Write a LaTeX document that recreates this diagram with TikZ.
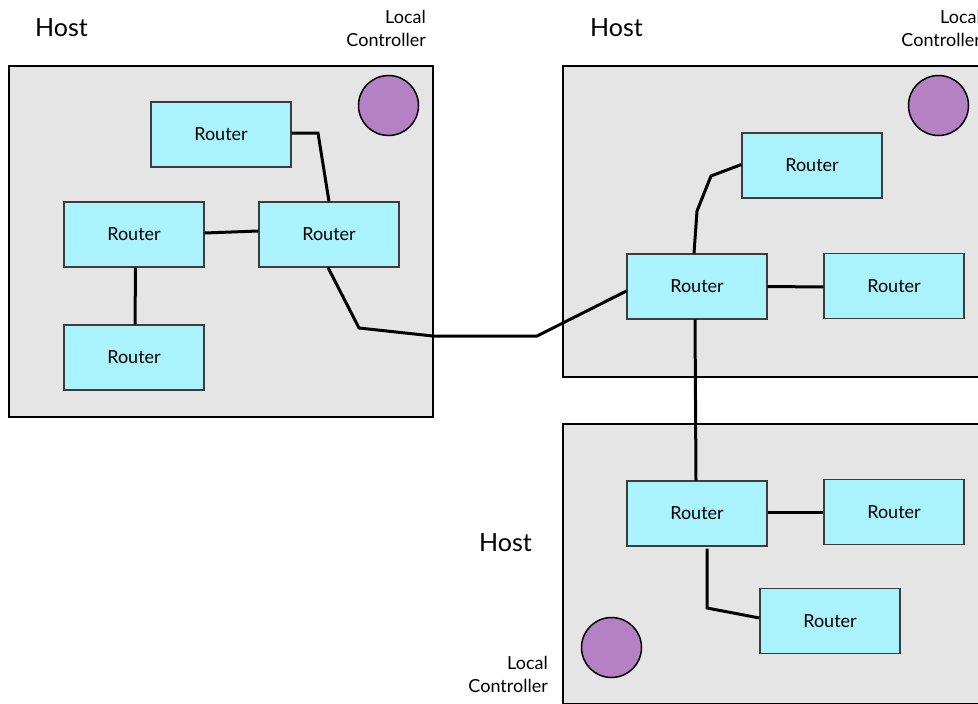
\documentclass[tikz,border=0pt]{standalone}
\usepackage{fontspec}
\setmainfont{Lato}
\definecolor{hostfill}{RGB}{229,229,229}
\definecolor{routerfill}{RGB}{170,242,252}
\definecolor{routeredge}{RGB}{60,60,60}
\definecolor{ctrlfill}{RGB}{180,130,196}
\begin{document}
\begin{tikzpicture}[x=1pt,y=-1pt,
  hostbox/.style={draw=black,fill=hostfill,line width=2pt},
  router/.style={draw=routeredge,fill=routerfill,line width=1.1pt,
    minimum width=140pt,minimum height=65pt,inner sep=0pt,
    font=\fontsize{18}{22}\selectfont},
  ctrl/.style={circle,draw=black,fill=ctrlfill,line width=1.5pt,
    minimum size=60pt,inner sep=0pt},
  hostlabel/.style={inner sep=0pt,anchor=west,font=\fontsize{25}{30}\selectfont},
  ctrllabel/.style={inner sep=0pt,anchor=east,align=right,
    font=\fontsize{18}{23}\selectfont},
  link/.style={draw=black,line width=3pt,line join=miter}]
\useasboundingbox (0,0) rectangle (978,704);

% host areas
\path[hostbox] (9,66) rectangle (433,417);
\path[hostbox] (563,66) rectangle (990,377);
\path[hostbox] (563,424) rectangle (990,704);

% host and controller captions
\node[hostlabel] (h1) at (35,28) {Host};
\node[hostlabel] (h2) at (590,28) {Host};
\node[hostlabel] (h3) at (479,543) {Host};
\node[ctrllabel] (t1) at (426,28.5) {Local\\Controller};
\node[ctrllabel] (t2) at (981,28.5) {Local\\Controller};
\node[ctrllabel] (t3) at (548,674.5) {Local\\Controller};

% local controllers
\node[ctrl] (c1) at (388.5,105.5) {};
\node[ctrl] (c2) at (938.5,105.5) {};
\node[ctrl] (c3) at (611.5,647.5) {};

% routers
\node[router] (r1) at (221,134.5) {Router};
\node[router] (r2) at (134,234.5) {Router};
\node[router] (r3) at (329,234.5) {Router};
\node[router] (r4) at (134,357.5) {Router};
\node[router] (r5) at (812,165.5) {Router};
\node[router] (r6) at (697,286.5) {Router};
\node[router] (r7) at (894,286) {Router};
\node[router] (r8) at (697,513.5) {Router};
\node[router] (r9) at (894,512) {Router};
\node[router] (r10) at (830,621) {Router};

% links
\draw[link] ([yshift=1.5pt]r1.east) -- (318,133) -- (r3.north);
\draw[link] ([yshift=1.5pt]r2.east) -- ([yshift=3.5pt]r3.west);
\draw[link] ([xshift=1.5pt]r2.south) -- ([xshift=1pt]r4.north);
\draw[link] ([xshift=-1pt]r3.south) -- (359,328) -- (433,336) -- (537,336)
  -- ([yshift=-4.5pt]r6.west);
\draw[link] ([xshift=-3pt]r6.north) -- (697,211) -- (711,176) -- ([yshift=1pt]r5.west);
\draw[link] (r6.east) -- ([yshift=-1pt]r7.west);
\draw[link] ([xshift=-2pt]r6.south) -- ([xshift=-1pt]r8.north);
\draw[link] ([yshift=1.5pt]r8.east) -- (r9.west);
\draw[link] ([xshift=10pt,yshift=-2pt]r8.south) -- (707,608) -- ([yshift=3pt]r10.west);
\end{tikzpicture}
\end{document}
